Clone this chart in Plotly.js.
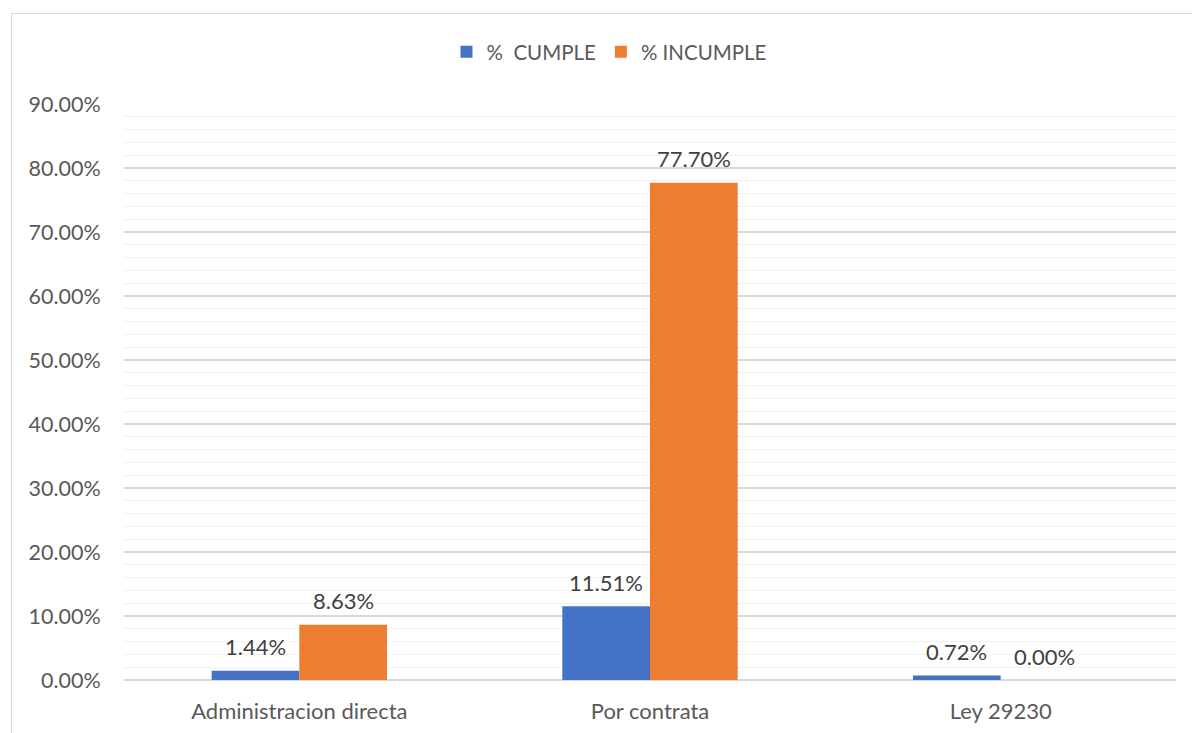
<!DOCTYPE html>
<html><head><meta charset="utf-8">
<script src="https://cdn.plot.ly/plotly-3.0.1.min.js"></script>
<style>
html,body{margin:0;padding:0;background:#fff;overflow:hidden}
#frame{position:absolute;left:11px;top:13px;width:1300px;height:900px;border:1.5px solid #d9d9d9;box-sizing:border-box}
#chart{position:absolute;left:0;top:0;width:1192px;height:733px}
</style></head>
<body>
<div id="frame"></div>
<div id="chart"></div>
<script>
var categories = ["Administracion directa", "Por contrata", "Ley 29230"];
var cumple = [1.44, 11.51, 0.72];
var incumple = [8.63, 77.70, 0.00];
var seriesNames = ["%  CUMPLE", "% INCUMPLE"];
var yTicks = [0,10,20,30,40,50,60,70,80,90];

var font = "Lato, 'Open Sans', sans-serif";
function mk(name, vals, color){
  return {type:'bar', name:name, x:categories, y:vals,
    marker:{color:color}, hoverinfo:'skip'};
}
var data = [mk(seriesNames[0], cumple, '#4472c4'), mk(seriesNames[1], incumple, '#ed7d31')];

var annotations = [];
[[cumple,-44],[incumple,44]].forEach(function(p){
  p[0].forEach(function(v,i){
    annotations.push({x:categories[i], y:v, xref:'x', yref:'y', text:v.toFixed(2)+'%',
      showarrow:false, xshift:p[1], yshift:24, yanchor:'middle',
      font:{family:font,size:22,color:'#404040'}});
  });
});

var layout = {
  width:1192, height:733,
  margin:{l:124, r:16, t:104, b:53},
  paper_bgcolor:'rgba(0,0,0,0)', plot_bgcolor:'rgba(0,0,0,0)',
  barmode:'group', bargap:0.5, bargroupgap:0,
  showlegend:true,
  legend:{orientation:'h', x:0.461, xanchor:'center', y:1+52/576, yanchor:'middle',
    font:{family:font,size:20.5,color:'#595959'}, itemwidth:30},
  annotations:annotations,
  xaxis:{tickfont:{family:font,size:22,color:'#595959'}, showgrid:false, showline:false,
    ticks:'outside', ticklen:12, tickcolor:'rgba(0,0,0,0)', fixedrange:true},
  yaxis:{range:[0,90], tickvals:yTicks, ticktext:yTicks.map(function(v){return v.toFixed(2)+'%';}),
    tickfont:{family:font,size:21.5,color:'#595959'},
    gridcolor:'#d9d9d9', gridwidth:1.3, zeroline:true, zerolinecolor:'#d9d9d9', zerolinewidth:1.3,
    showline:false, ticks:'outside', ticklen:18, tickcolor:'rgba(0,0,0,0)',
    minor:{dtick:2, showgrid:true, gridcolor:'#f2f2f2', gridwidth:1.3, ticks:''},
    fixedrange:true}
};
Plotly.newPlot('chart', data, layout, {displayModeBar:false, staticPlot:true});
</script>
</body></html>
